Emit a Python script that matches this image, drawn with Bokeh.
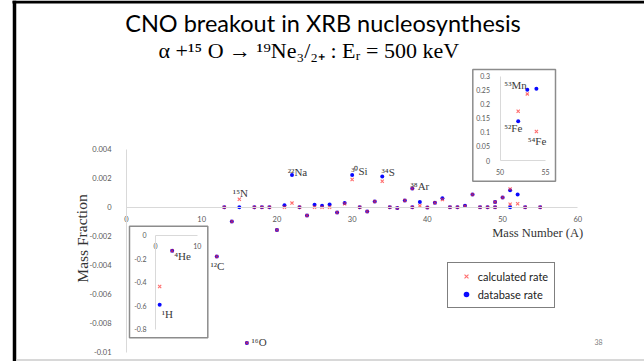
from bokeh.plotting import figure
from bokeh.models import (Range1d, LinearAxis, FixedTicker, NumeralTickFormatter,
                          ColumnDataSource, Legend, LegendItem)
from bokeh.core.properties import value
from bokeh.embed import file_html
from bokeh.resources import INLINE

# ---------------- data ----------------
# main panel: mass number, mass-fraction change for the two rates
main_A = [12, 13, 14, 15, 16, 17, 18, 19, 20, 21, 22, 23, 24, 25, 26, 27, 28, 29, 30, 31,
          32, 33, 34, 35, 36, 37, 38, 38, 39, 40, 41, 42, 43, 44, 45, 46, 47, 48, 49, 49,
          50, 51, 51, 52, 53, 55]
main_calc = [-0.00339, 0.0, -0.00098, 0.00056, -0.00935, 0.0, 0.0, 0.0, -0.00157, 0.0,
             0.00029, 0.0, -0.00056, 0.0, 0.0, 0.0, -0.00036, 0.00025, 0.00192, 0.0,
             -0.00029, 0.0004, 0.0018, 0.0, -0.00005, 0.00047, 0.0013, 0.0, 0.0001, -0.00002,
             0.00031, 0.00054, 0.0, 0.0, 0.00008, 0.00088, 0.0, 0.0, 0.00036, 0.0,
             0.00068, 0.00127, 0.00022, 0.00025, 0.0, 0.0]
main_db = [-0.00339, 0.0, -0.00098, 0.0, -0.00935, 0.0, 0.0, 0.0, -0.00157, 0.00015,
           0.00222, 0.0, -0.00056, 0.00017, 0.0001, 0.0002, -0.00036, 0.00029, 0.00222, 0.0,
           -0.00029, 0.0004, 0.00212, 0.0, -0.00005, 0.00047, 0.0013, 0.0, 0.00036, -0.00002,
           0.00031, 0.00063, 0.0, 0.0, 0.0001, 0.00088, 0.0, 0.0, 0.00036, 0.0,
           0.00068, 0.00118, 0.0, 0.00088, 0.0, 0.0]

# inset 1: light nuclei
light_A = [1, 4]
light_calc = [-0.436, -0.134]
light_db = [-0.59, -0.134]

# inset 2: iron group
iron_A = [52, 53, 54]
iron_calc = [0.175, 0.237, 0.103]
iron_db = [0.14, 0.252, 0.255]

# ticks
main_x_ticks = [0, 10, 20, 30, 40, 50, 60]
main_y_ticks = [-0.01, -0.008, -0.006, -0.004, -0.002, 0, 0.002, 0.004]
light_x_ticks = [0, 10]
light_y_ticks = [-0.8, -0.6, -0.4, -0.2, 0]
iron_x_ticks = [50, 55]
iron_y_ticks = [0, 0.05, 0.1, 0.15, 0.2, 0.25, 0.3]

# isotope labels (A, value, text) for each panel
main_labels_A = [15, 22, 30, 34, 38, 12, 16]
main_labels_v = [0.00056, 0.00222, 0.00222, 0.00212, 0.0013, -0.00339, -0.00935]
main_labels_t = ["¹⁵N", "²²Na", "³⁰Si", "³⁴S", "³⁸Ar", "¹²C", "¹⁶O"]
light_labels_A = [4, 1]
light_labels_v = [-0.134, -0.59]
light_labels_t = ["⁴He", "¹H"]
iron_labels_A = [53, 52, 54]
iron_labels_v = [0.252, 0.14, 0.103]
iron_labels_t = ["⁵³Mn", "⁵²Fe", "⁵⁴Fe"]

TITLE = "CNO breakout in XRB nucleosynthesis"
SUBTITLE = "α +¹⁵ O  →  ¹⁹Ne₃/₂₊ :  Eᵣ = 500 keV"

# ---------------- layout constants (pixels) ----------------
W, H = 644, 361


def xr(v0, p0, scale):
    return Range1d(v0 - p0 / scale, v0 + (W - p0) / scale)


def yr(v0, p0, scale):
    return Range1d(v0 + (p0 - H) / scale, v0 + p0 / scale)


p = figure(width=W, height=H, output_backend="svg", toolbar_location=None,
           x_range=xr(0, 126, 7.522), y_range=yr(0, 206.8, 14500),
           x_axis_location=None, y_axis_location=None, min_border=0,
           outline_line_color=None, background_fill_color="white",
           border_fill_color="white")
p.grid.visible = False

p.extra_x_ranges = {"px": Range1d(0, W), "i1x": xr(0, 155, 4.17), "i2x": xr(50, 499.5, 9.1)}
p.extra_y_ranges = {"py": Range1d(H, 0), "i1y": yr(0, 234.5, 118.1), "i2y": yr(0, 160, 281)}

AX_COLOR = "#d9d9d9"
LBL_COLOR = "#595959"
TICK_FONT = "Lato"


def add_axis(side, xname, yname, loc, bounds, ticks, fmt, standoff, size):
    ax = LinearAxis(x_range_name=xname, y_range_name=yname, fixed_location=loc,
                    bounds=bounds, ticker=FixedTicker(ticks=ticks),
                    formatter=NumeralTickFormatter(format=fmt),
                    axis_line_color=AX_COLOR, axis_line_width=1,
                    major_tick_line_color=None, minor_tick_line_color=None,
                    major_tick_out=0, major_tick_in=0, minor_tick_out=0, minor_tick_in=0,
                    major_label_standoff=standoff,
                    major_label_text_font=TICK_FONT, major_label_text_font_size=size,
                    major_label_text_color=LBL_COLOR)
    p.add_layout(ax, side)


# slide decoration (page pixel coordinates)
p.segment(x0=[14], y0=[0], x1=[14], y1=[H], x_range_name="px", y_range_name="py",
          line_color="black", line_width=3.5)
p.segment(x0=[12], y0=[1.5], x1=[W], y1=[1.5], x_range_name="px", y_range_name="py",
          line_color="black", line_width=3)
p.segment(x0=[16], y0=[359.5], x1=[W], y1=[359.5], x_range_name="px", y_range_name="py",
          line_color="#d8d8d8", line_width=2)

# inset frames
p.quad(left=[129], right=[207.3], top=[225.7], bottom=[337.3], x_range_name="px",
       y_range_name="py", fill_color="white", line_color="#8c8c8c", line_width=1.5)
p.quad(left=[472.3], right=[555], top=[69], bottom=[180.7], x_range_name="px",
       y_range_name="py", fill_color="white", line_color="#8c8c8c", line_width=1.5)

# axes
add_axis("below", "default", "default", 0, (0, 60), main_x_ticks, "0", 9, "7.5px")
add_axis("left", "default", "default", 0, (-0.01, 0.004), main_y_ticks, "0.[000]", 15, "7.5px")
add_axis("below", "i1x", "i1y", 0, (0, 10), light_x_ticks, "0", 8, "7px")
add_axis("left", "i1x", "i1y", 0, (-0.8, 0), light_y_ticks, "0.[0]", 9, "7px")
add_axis("below", "i2x", "i2y", 0, (50, 55), iron_x_ticks, "0", 8, "7px")
add_axis("left", "i2x", "i2y", 50, (0, 0.3), iron_y_ticks, "0.[00]", 10, "7px")

# data markers
RED = "#ff3030"
BLUE = "#0a0aff"


def markers(xs, calc, db, xname, yname):
    src = ColumnDataSource(dict(A=xs, calc=calc, db=db))
    rb = p.scatter("A", "db", source=src, marker="circle", size=4, fill_color=BLUE,
                   line_color=None, x_range_name=xname, y_range_name=yname)
    rc = p.scatter("A", "calc", source=src, marker="x", size=4.5, line_color=RED,
                   line_alpha=0.7, line_width=1.1, x_range_name=xname, y_range_name=yname)
    return rc, rb


r_calc, r_db = markers(main_A, main_calc, main_db, "default", "default")
markers(light_A, light_calc, light_db, "i1x", "i1y")
markers(iron_A, iron_calc, iron_db, "i2x", "i2y")

# isotope labels, placed next to the points they name (pixel offsets)
LABEL_FONT = "Liberation Serif"
main_dx = [-6.5, -4.2, -1, -0.7, -1.8, -6.3, 4.7]
main_dy = [-5.7, -3.6, -4, -5, -2.6, 9.3, -1]
light_dx = [2, 2]
light_dy = [4.7, 9]
iron_dx = [-23, -14, -8.7]
iron_dy = [-5, 7, 9]


def labels(xs, vs, ts, dx, dy, xname, yname):
    src = ColumnDataSource(dict(x=xs, y=vs, t=ts, dx=dx, dy=dy))
    p.text("x", "y", text="t", x_offset="dx", y_offset="dy", source=src,
           x_range_name=xname, y_range_name=yname, text_font=value(LABEL_FONT),
           text_font_size="11px", text_color="#3a3a3a", text_align="left",
           text_baseline="middle")


labels(main_labels_A, main_labels_v, main_labels_t, main_dx, main_dy, "default", "default")
labels(light_labels_A, light_labels_v, light_labels_t, light_dx, light_dy, "i1x", "i1y")
labels(iron_labels_A, iron_labels_v, iron_labels_t, iron_dx, iron_dy, "i2x", "i2y")

# titles and axis titles (page pixel coordinates)
p.text(x=[322.5], y=[22], text=[TITLE], x_range_name="px", y_range_name="py",
       text_font=value("Lato"), text_font_size="23.5px", text_align="center",
       text_baseline="middle", text_color="black")
p.text(x=[158], y=[50], text=[SUBTITLE], x_range_name="px", y_range_name="py",
       text_font=value("Liberation Serif"), text_font_size="22px", text_align="left",
       text_baseline="middle", text_color="black")
p.text(x=[81.5], y=[238], text=["Mass Fraction"], angle=1.5708, x_range_name="px",
       y_range_name="py", text_font=value("Liberation Serif"), text_font_size="15.5px",
       text_align="center", text_baseline="middle", text_color="#333333")
p.text(x=[582.7], y=[232.3], text=["Mass Number (A)"], x_range_name="px",
       y_range_name="py", text_font=value("Liberation Serif"), text_font_size="12.5px",
       text_align="right", text_baseline="middle", text_color="#333333")
p.text(x=[598], y=[341], text=["38"], x_range_name="px", y_range_name="py",
       text_font=value("Lato"), text_font_size="7px", text_align="center",
       text_baseline="middle", text_color="#7f7f7f")

# legend
legend = Legend(items=[LegendItem(label="calculated rate", renderers=[r_calc]),
                       LegendItem(label="database rate", renderers=[r_db])],
                location=(446.7, 52.7), orientation="vertical", padding=6, margin=0,
                spacing=4, glyph_width=24, glyph_height=14, label_standoff=0,
                label_height=14, label_text_font="Lato", label_text_font_size="11px",
                label_text_color="#222222", border_line_color="black",
                border_line_width=1.5, background_fill_color="white",
                background_fill_alpha=1)
p.add_layout(legend, "center")

open("out.html", "w").write(file_html(p, INLINE))
